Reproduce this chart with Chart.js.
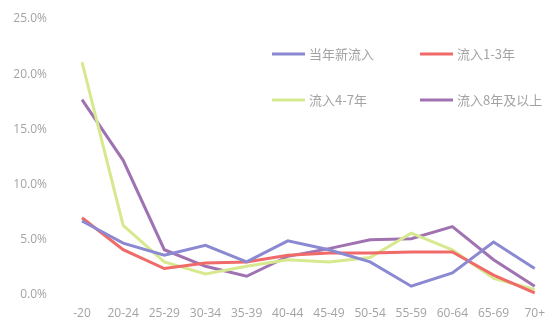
<!DOCTYPE html>
<html>
<head>
<meta charset="utf-8">
<script src="https://cdn.jsdelivr.net/npm/chart.js@4/dist/chart.umd.min.js"></script>
<style>
  html, body { margin: 0; padding: 0; background: #ffffff; }
  #wrap { width: 556px; height: 320px; }
</style>
</head>
<body>
<div id="wrap"><canvas id="c" width="556" height="320"></canvas></div>
<script>
// Age groups on the x axis
const ageGroups = ['-20', '20-24', '25-29', '30-34', '35-39', '40-44', '45-49', '50-54', '55-59', '60-64', '65-69', '70+'];

// Share of each inflow cohort by age group (%)
const newThisYear = [6.7, 4.7, 3.6, 4.5, 3.0, 4.9, 4.1, 3.0, 0.8, 2.0, 4.8, 2.4];
const inflow1to3 = [7.0, 4.1, 2.4, 2.9, 3.0, 3.6, 3.8, 3.8, 3.9, 3.9, 1.8, 0.2];
const inflow4to7 = [21.1, 6.3, 3.0, 1.9, 2.6, 3.2, 3.0, 3.4, 5.6, 4.1, 1.5, 0.5];
const inflow8plus = [17.7, 12.2, 4.1, 2.6, 1.7, 3.5, 4.2, 5.0, 5.1, 6.2, 3.2, 0.8];

const seriesNames = ['当年新流入', '流入1-3年', '流入4-7年', '流入8年及以上'];
const seriesColors = ['#8a89d2', '#ef6a68', '#d7e98e', '#a072b2'];

const labelColor = '#a3a3a3';

// Two-column legend drawn inside the plot area
const cornerLegend = {
  id: 'cornerLegend',
  afterDraw(chart) {
    const ctx = chart.ctx;
    const cols = [272, 420];
    const rows = [54, 100];
    ctx.save();
    ctx.font = '13px "Noto Sans CJK SC", "Noto Sans", sans-serif';
    ctx.textBaseline = 'middle';
    ctx.textAlign = 'left';
    chart.data.datasets.forEach((ds, i) => {
      const x = cols[i % 2];
      const y = rows[Math.floor(i / 2)];
      ctx.strokeStyle = ds.borderColor;
      ctx.lineWidth = 3;
      ctx.beginPath();
      ctx.moveTo(x, y);
      ctx.lineTo(x + 33, y);
      ctx.stroke();
      ctx.fillStyle = labelColor;
      ctx.fillText(ds.label, x + 37, y);
    });
    ctx.restore();
  }
};

const series = [newThisYear, inflow1to3, inflow4to7, inflow8plus];

new Chart(document.getElementById('c'), {
  type: 'line',
  data: {
    labels: ageGroups,
    datasets: series.map((values, i) => ({
      label: seriesNames[i],
      data: values,
      borderColor: seriesColors[i],
      backgroundColor: seriesColors[i],
      borderWidth: 3,
      pointRadius: 0,
      tension: 0,
      fill: false
    }))
  },
  options: {
    responsive: false,
    animation: false,
    layout: { padding: { top: 19, right: 10, bottom: 0, left: 0 } },
    plugins: {
      legend: { display: false },
      tooltip: { enabled: false }
    },
    scales: {
      x: {
        offset: false,
        grid: { display: false, drawTicks: false },
        border: { display: false },
        ticks: {
          color: labelColor,
          font: { family: '"Open Sans", sans-serif', size: 12 },
          padding: 11,
          maxRotation: 0,
          autoSkip: false
        },
        afterFit(scale) { scale.height = 25; }
      },
      y: {
        min: 0,
        max: 25,
        grid: { display: false, drawTicks: false },
        border: { display: false },
        ticks: {
          stepSize: 5,
          color: labelColor,
          font: { family: '"Open Sans", sans-serif', size: 12 },
          padding: 35,
          callback: v => v.toFixed(1) + '%'
        },
        afterFit(scale) {
          // wide gap between labels and plot, without extra vertical padding
          scale.width = 82;
          scale.paddingTop = 0;
          scale.paddingBottom = 0;
        }
      }
    }
  },
  plugins: [cornerLegend]
});
</script>
</body>
</html>
